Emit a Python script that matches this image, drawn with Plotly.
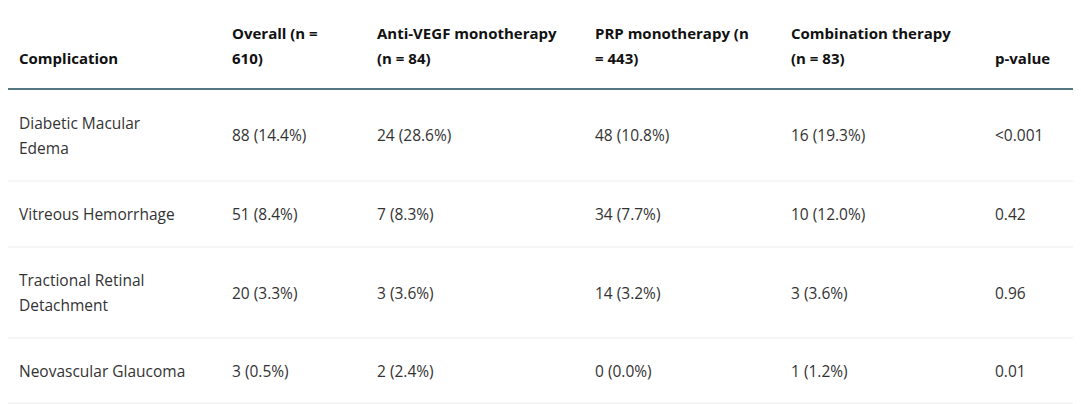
import plotly.graph_objects as go

headers = ["Complication", "Overall (n =<br>610)", "Anti-VEGF monotherapy<br>(n = 84)",
           "PRP monotherapy (n<br>= 443)", "Combination therapy<br>(n = 83)", "p-value"]
complications = ["Diabetic Macular<br>Edema", "Vitreous Hemorrhage",
                 "Tractional Retinal<br>Detachment", "Neovascular Glaucoma"]
overall = ["88 (14.4%)", "51 (8.4%)", "20 (3.3%)", "3 (0.5%)"]
anti_vegf = ["24 (28.6%)", "7 (8.3%)", "3 (3.6%)", "2 (2.4%)"]
prp = ["48 (10.8%)", "34 (7.7%)", "14 (3.2%)", "0 (0.0%)"]
combination = ["16 (19.3%)", "10 (12.0%)", "3 (3.6%)", "1 (1.2%)"]
p_values = ["<0.001", "0.42", "0.96", "0.01"]

W, H = 1081, 404
OFF = 8  # page body margin compensation
col_x = [19, 232, 377, 595, 791, 995]
row_bounds = [89, 181, 247, 338, 403]
header_line_bottom = 59
line_gap = 25
FONT = "Open Sans"
FS_HEAD = 15
FS_BODY = 15.5

columns = [complications, overall, anti_vegf, prp, combination, p_values]

fig = go.Figure()
fig.add_trace(go.Scatter(x=[0, W], y=[0, H], mode="markers",
                         marker=dict(opacity=0), hoverinfo="skip", showlegend=False))

ann = []
def add_line(x, y, text, bold, color, size):
    ann.append(dict(x=x, y=y, xref="x", yref="y", text=(f"<b>{text}</b>" if bold else text),
                    showarrow=False, xanchor="left", yanchor="middle", borderpad=0, xshift=-1,
                    font=dict(family=FONT, size=size, color=color)))

# header: bottom-aligned
for cx, h in zip(col_x, headers):
    lines = h.split("<br>")
    n = len(lines)
    for i, ln in enumerate(lines):
        add_line(cx, header_line_bottom - 1 - (n - 1 - i) * line_gap, ln, True, "#111111", FS_HEAD)

for r in range(len(complications)):
    yc = (row_bounds[r] + row_bounds[r + 1]) / 2
    for cx, col in zip(col_x, columns):
        lines = col[r].split("<br>")
        n = len(lines)
        for i, ln in enumerate(lines):
            add_line(cx, yc + (i - (n - 1) / 2) * line_gap, ln, False, "#333333", FS_BODY)

shapes = [dict(type="line", xref="x", yref="y", x0=-OFF, x1=W + OFF, y0=row_bounds[0], y1=row_bounds[0],
               line=dict(color="#1c4a57", width=1.5))]
for yb in row_bounds[1:]:
    shapes.append(dict(type="line", xref="x", yref="y", x0=-OFF, x1=W + OFF, y0=yb, y1=yb,
                       line=dict(color="#ececec", width=1)))

fig.update_layout(
    width=W, height=H, margin=dict(l=0, r=0, t=0, b=0),
    paper_bgcolor="white", plot_bgcolor="white",
    xaxis=dict(range=[OFF, W + OFF], visible=False, fixedrange=True),
    yaxis=dict(range=[H + OFF, OFF], visible=False, fixedrange=True),
    annotations=ann, shapes=shapes,
)
fig.write_html("out.html")
